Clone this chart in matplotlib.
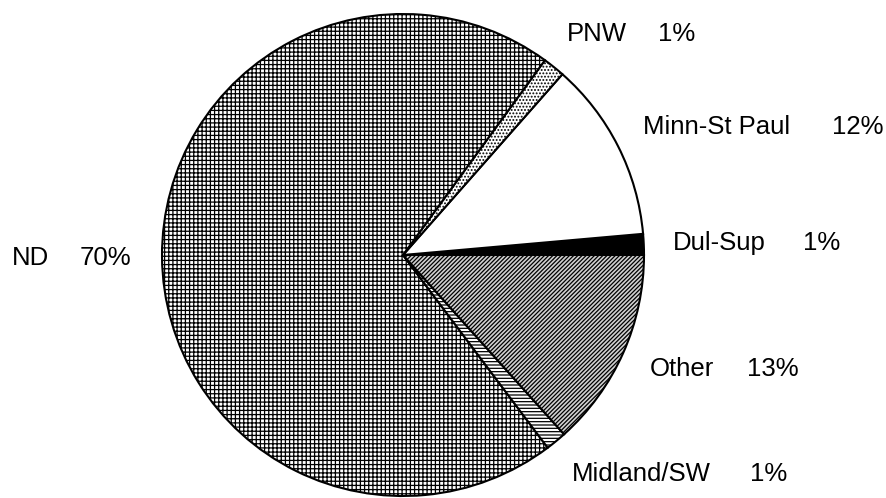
import matplotlib
matplotlib.use("Agg")
import matplotlib.pyplot as plt

# shipment shares by destination, counter-clockwise from 3 o'clock
regions = ["Dul-Sup", "Minn-St Paul", "PNW", "ND", "Midland/SW", "Other"]
shares = [1.4, 12.1, 1.48, 70.27, 1.4, 13.35]

faces = ["black", "white", "white", "white", "white", "#d0d0d0"]
hatches = [None, None, ".....", "++++", "-----", "////////"]

# label anchor (left x, centre y) in pixel coords, top-left origin
lab_x = [673, 643, 567, 12, 572, 650]
pct_x = [803, 832, 658, 80, 750, 747]
lab_y = [243, 127, 34, 258, 474, 369]

W, H = 887, 498
plt.rcParams["font.family"] = ["Liberation Sans", "DejaVu Sans"]
plt.rcParams["hatch.linewidth"] = 0.9

fig = plt.figure(figsize=(W / 100, H / 100), dpi=100)
ax = fig.add_axes([0, 0, 1, 1])

wedges, _ = ax.pie(shares, center=(403, H - 255), radius=241, startangle=0,
                   counterclock=True, colors=faces,
                   wedgeprops=dict(edgecolor="black", linewidth=1.5))
for w, h in zip(wedges, hatches):
    if h:
        w.set_hatch(h)

# pie() resets the limits, so pin the pixel frame afterwards
ax.set_xlim(0, W)
ax.set_ylim(0, H)
ax.set_aspect("equal")
ax.axis("off")

for name, v, x, px, y in zip(regions, shares, lab_x, pct_x, lab_y):
    ax.text(x, H - y, name, fontsize=18.5, va="center", ha="left")
    ax.text(px, H - y, f"{round(v)}%", fontsize=18.5, va="center", ha="left")

fig.savefig("out.png", dpi=100)
